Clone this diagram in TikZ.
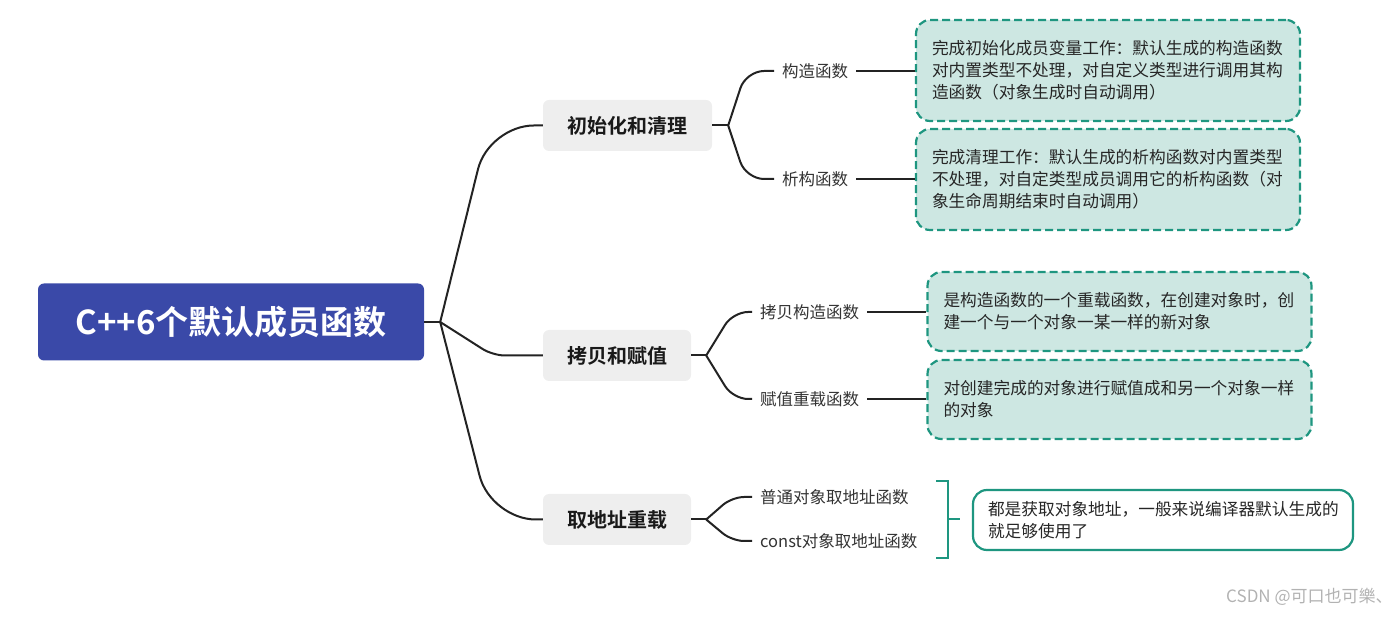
\documentclass[tikz,border=0pt]{standalone}
\usepackage{fontspec}
\setmainfont{Noto Sans CJK SC}[BoldFont={Noto Sans CJK SC Bold}]
\usetikzlibrary{positioning}
\definecolor{raizazul}{RGB}{58,73,168}
\definecolor{gris}{RGB}{238,238,238}
\definecolor{verde}{RGB}{30,150,128}
\definecolor{verdeclaro}{RGB}{205,231,226}
\definecolor{linea}{RGB}{35,35,35}
\tikzset{
  raiz/.style={fill=raizazul,text=white,rounded corners=6pt,minimum width=386pt,minimum height=77pt,font=\fontsize{33}{38}\selectfont\bfseries},
  rama/.style={fill=gris,rounded corners=6pt,minimum height=51pt,font=\fontsize{20}{24}\selectfont\bfseries,text=black!90},
  hoja/.style={inner xsep=8pt,anchor=west,font=\fontsize{16.5}{20}\selectfont,text=black!80},
  nota/.style={draw=verde,line width=2.2pt,rounded corners=14pt,align=left,inner xsep=16pt,text width=352pt,font=\fontsize{16.7}{22}\selectfont,text=black!85},
  notad/.style={nota,fill=verdeclaro,dash pattern=on 8pt off 4pt},
  con/.style={draw=linea,line width=2pt}
}
\begin{document}
\begin{tikzpicture}[x=1pt,y=1pt]
  \useasboundingbox (0,0) rectangle (1400,632);
  % nodos principales
  \node[raiz] (raiz) at (231,310) {C++6个默认成员函数};
  \node[rama,minimum width=169pt] (init) at (627.5,506.5) {初始化和清理};
  \node[rama,minimum width=148pt] (copia) at (617,276.5) {拷贝和赋值};
  \node[rama,minimum width=148pt] (dir) at (617,112.5) {取地址重载};
  % hojas
  \node[hoja] (ctor) at (774,561) {构造函数};
  \node[hoja] (dtor) at (774,453) {析构函数};
  \node[hoja] (cpctor) at (752,320) {拷贝构造函数};
  \node[hoja] (asig) at (752,233) {赋值重载函数};
  \node[hoja] (dir1) at (752,135) {普通对象取地址函数};
  \node[hoja] (dir2) at (752,91) {const对象取地址函数};
  % notas
  \node[notad,minimum height=101pt] (n1) at (1108,561.5) {完成初始化成员变量工作：默认生成的构造函数\\对内置类型不处理，对自定义类型进行调用其构\\造函数（对象生成时自动调用）};
  \node[notad,minimum height=101pt] (n2) at (1108,452.5) {完成清理工作：默认生成的析构函数对内置类型\\不处理，对自定类型成员调用它的析构函数（对\\象生命周期结束时自动调用）};
  \node[notad,minimum height=79pt] (n3) at (1119.5,320.5) {是构造函数的一个重载函数，在创建对象时，创\\建一个与一个对象一某一样的新对象};
  \node[notad,minimum height=79pt] (n4) at (1119.5,232.5) {对创建完成的对象进行赋值成和另一个对象一样\\的对象};
  \node[nota,fill=white,minimum height=60pt,text width=350pt,inner xsep=15pt] (n5) at (1163,112) {都是获取对象地址，一般来说编译器默认生成的\\就足够使用了};
  % conectores
  \coordinate (j0) at ([xshift=16pt]raiz.east);
  \coordinate (j1) at ([xshift=16pt]init.east);
  \coordinate (j2) at ([xshift=15pt]copia.east);
  \coordinate (j3) at ([xshift=15pt]dir.east);
  \draw[con] (raiz.east) -- (j0);
  \draw[con,rounded corners=45pt] (j0) -- ([xshift=-54pt]init.west) -- (init.west);
  \draw[con,rounded corners=12pt] (j0) -- ([xshift=-50pt]copia.west) -- (copia.west);
  \draw[con,rounded corners=45pt] (j0) -- ([xshift=-52pt]dir.west) -- (dir.west);
  \draw[con] (init.east) -- (j1) (copia.east) -- (j2) (dir.east) -- (j3);
  \draw[con,rounded corners=18pt] (j1) -- ([xshift=-28pt]ctor.west) -- (ctor.west) (j1) -- ([xshift=-28pt]dtor.west) -- (dtor.west);
  \draw[con,rounded corners=15pt] (j2) -- ([xshift=-19pt]cpctor.west) -- (cpctor.west) (j2) -- ([xshift=-19pt]asig.west) -- (asig.west);
  \draw[con,rounded corners=12pt] (j3) -- ([xshift=-20pt]dir1.west) -- (dir1.west) (j3) -- ([xshift=-20pt]dir2.west) -- (dir2.west);
  \foreach \h/\n in {ctor/n1,dtor/n2,cpctor/n3,asig/n4}
    \draw[con] (\h.east) -- (\h.east -| \n.west);
  % llave
  \coordinate (lla) at (936,151); \coordinate (llb) at (936,74);
  \draw[verde,line width=2.2pt] (lla) -- ++(12,0) |- (llb) ++(12,39) -- ++(12,0);
  \node[anchor=west,inner sep=0pt,text=black!30,font=\fontsize{17}{20}\selectfont] (marca) at (1226,35) {CSDN @可口也可樂、};
\end{tikzpicture}
\end{document}
